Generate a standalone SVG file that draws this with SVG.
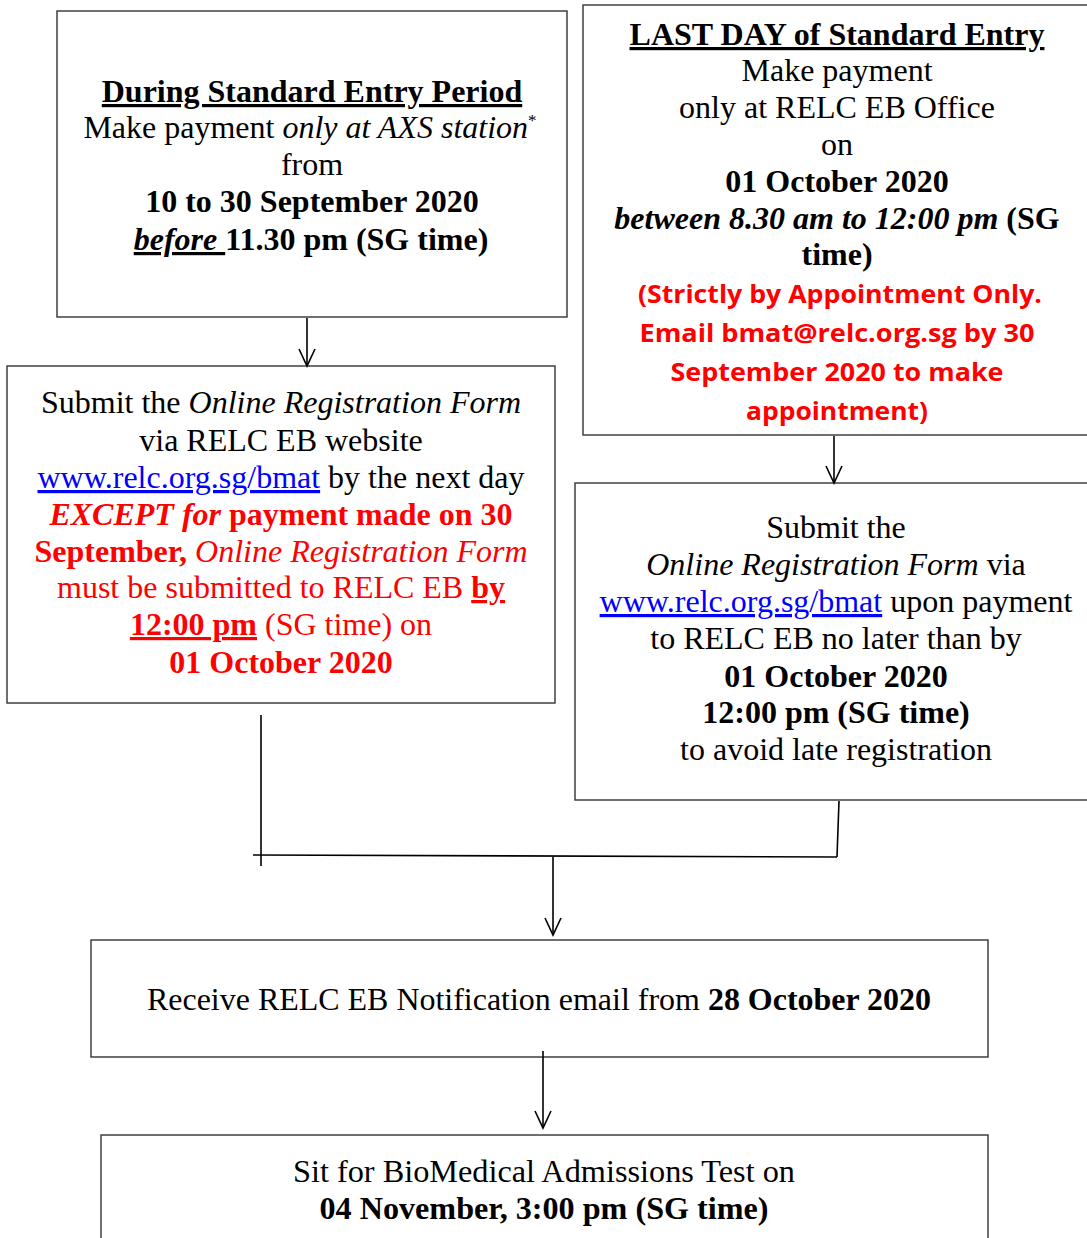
<svg xmlns="http://www.w3.org/2000/svg" width="1087" height="1238" viewBox="0 0 1087 1238">
<defs>
<style>
.box{fill:#fff;stroke:#333;stroke-width:1.4}
.t{font-family:"Liberation Serif","Times New Roman",serif;font-size:32px;fill:#000;text-anchor:middle}
.r{fill:#ff0000}
.c{font-family:"Open Sans","Noto Sans","Liberation Sans",sans-serif;font-size:25px;font-weight:bold;fill:#ff0000;text-anchor:middle}
.b{font-weight:bold}
.i{font-style:italic}
.u{text-decoration:underline}
.lnk{fill:#0000ff;text-decoration:underline}
.con{fill:none;stroke:#000;stroke-width:1.6}
</style>
<marker id="arr" markerUnits="userSpaceOnUse" markerWidth="24" markerHeight="24" viewBox="-20 -12 24 24" refX="0" refY="0" orient="auto">
<path d="M-17,-8 L0,0 L-17,8" fill="none" stroke="#000" stroke-width="1.6"/>
</marker>
</defs>
<rect width="1087" height="1238" fill="#fff"/>

<g id="node-standard-entry">
<rect class="box" x="57" y="11" width="510" height="306"/>
<text class="t" x="312" y="102"><tspan class="b u">During Standard Entry Period</tspan></text>
<text class="t" x="310" y="138">Make payment <tspan class="i">only at AXS station</tspan><tspan font-size="17" dy="-12">*</tspan></text>
<text class="t" x="312" y="175">from</text>
<text class="t" x="312" y="212"><tspan class="b">10 to 30 September 2020</tspan></text>
<text class="t b" x="311" y="250"><tspan class="i u">before </tspan>11.30 pm (SG time)</text>
</g>

<g id="node-last-day">
<rect class="box" x="583" y="5" width="520" height="430"/>
<text class="t" x="837" y="45"><tspan class="b u">LAST DAY of Standard Entry</tspan></text>
<text class="t" x="837" y="81">Make payment</text>
<text class="t" x="837" y="118">only at RELC EB Office</text>
<text class="t" x="837" y="155">on</text>
<text class="t b" x="837" y="192">01 October 2020</text>
<text class="t b" x="837" y="229"><tspan class="i">between 8.30 am to 12:00 pm</tspan> (SG</text>
<text class="t b" x="837" y="265">time)</text>
<text class="c" x="840" y="303" textLength="404" lengthAdjust="spacingAndGlyphs">(Strictly by Appointment Only.</text>
<text class="c" x="837" y="342" textLength="395" lengthAdjust="spacingAndGlyphs">Email bmat@relc.org.sg by 30</text>
<text class="c" x="837" y="381" textLength="333" lengthAdjust="spacingAndGlyphs">September 2020 to make</text>
<text class="c" x="837" y="420" textLength="182" lengthAdjust="spacingAndGlyphs">appointment)</text>
</g>

<g id="node-submit-left">
<rect class="box" x="7" y="366" width="548" height="337"/>
<text class="t" x="281" y="413">Submit the <tspan class="i">Online Registration Form</tspan></text>
<text class="t" x="281" y="451">via RELC EB website</text>
<text class="t" x="281" y="488"><tspan class="lnk">www.relc.org.sg/bmat</tspan> by the next day</text>
<text class="t b r" x="281" y="525"><tspan class="i">EXCEPT for</tspan> payment made on 30</text>
<text class="t r" x="281" y="562"><tspan class="b">September,</tspan> <tspan class="i">Online Registration Form</tspan></text>
<text class="t r" x="281" y="598">must be submitted to RELC EB <tspan class="b u">by</tspan></text>
<text class="t r" x="281" y="635"><tspan class="b u">12:00 pm</tspan> (SG time) on</text>
<text class="t b r" x="281" y="673">01 October 2020</text>
</g>

<g id="node-submit-right">
<rect class="box" x="575" y="483" width="528" height="317"/>
<text class="t" x="836" y="538">Submit the</text>
<text class="t" x="836" y="575"><tspan class="i">Online Registration Form</tspan> via</text>
<text class="t" x="836" y="612"><tspan class="lnk">www.relc.org.sg/bmat</tspan> upon payment</text>
<text class="t" x="836" y="649">to RELC EB no later than by</text>
<text class="t b" x="836" y="687">01 October 2020</text>
<text class="t b" x="836" y="723">12:00 pm (SG time)</text>
<text class="t" x="836" y="760">to avoid late registration</text>
</g>

<g id="node-notification">
<rect class="box" x="91" y="940" width="897" height="117"/>
<text class="t" x="539" y="1010" textLength="784" lengthAdjust="spacingAndGlyphs">Receive RELC EB Notification email from <tspan class="b">28 October 2020</tspan></text>
</g>

<g id="node-bmat">
<rect class="box" x="101" y="1135" width="887" height="120"/>
<text class="t" x="544" y="1182" textLength="502" lengthAdjust="spacingAndGlyphs">Sit for BioMedical Admissions Test on</text>
<text class="t b" x="544" y="1219" textLength="449" lengthAdjust="spacingAndGlyphs">04 November, 3:00 pm (SG time)</text>
</g>

<g id="connectors">
<line class="con" x1="307" y1="318" x2="307" y2="366" marker-end="url(#arr)"/>
<line class="con" x1="834" y1="436" x2="834" y2="483" marker-end="url(#arr)"/>
<line class="con" x1="261" y1="715" x2="261" y2="866"/>
<line class="con" x1="253" y1="855" x2="837" y2="857"/>
<line class="con" x1="839" y1="801" x2="837" y2="857"/>
<line class="con" x1="553" y1="857" x2="553" y2="935" marker-end="url(#arr)"/>
<line class="con" x1="543" y1="1051" x2="543" y2="1128" marker-end="url(#arr)"/>
</g>
</svg>
